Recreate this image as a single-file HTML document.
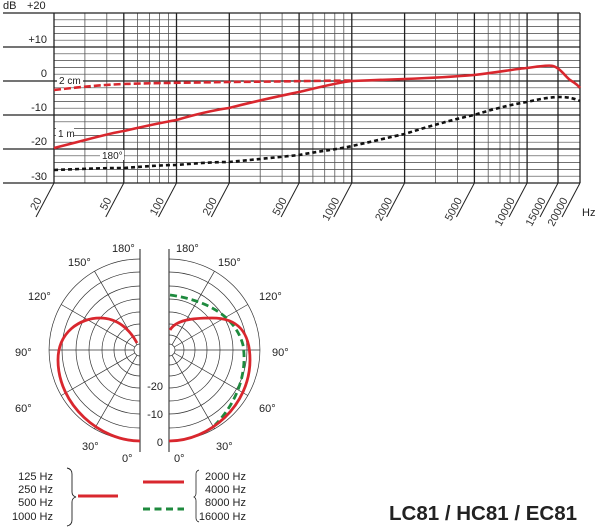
<!DOCTYPE html>
<html><head><meta charset="utf-8"><style>
html,body{margin:0;padding:0;background:#fff;}
svg{display:block;font-family:"Liberation Sans",Arial,sans-serif;}
</style></head><body>
<svg width="616" height="530" viewBox="0 0 616 530" xmlns="http://www.w3.org/2000/svg">
<g stroke="#444" stroke-width="0.7">
<line x1="54" y1="19.8" x2="580" y2="19.8"/><line x1="54" y1="26.6" x2="580" y2="26.6"/><line x1="54" y1="33.4" x2="580" y2="33.4"/><line x1="54" y1="40.2" x2="580" y2="40.2"/>
<line x1="54" y1="53.8" x2="580" y2="53.8"/><line x1="54" y1="60.6" x2="580" y2="60.6"/><line x1="54" y1="67.4" x2="580" y2="67.4"/><line x1="54" y1="74.2" x2="580" y2="74.2"/>
<line x1="54" y1="87.8" x2="580" y2="87.8"/><line x1="54" y1="94.6" x2="580" y2="94.6"/><line x1="54" y1="101.4" x2="580" y2="101.4"/><line x1="54" y1="108.2" x2="580" y2="108.2"/>
<line x1="54" y1="121.8" x2="580" y2="121.8"/><line x1="54" y1="128.6" x2="580" y2="128.6"/><line x1="54" y1="135.4" x2="580" y2="135.4"/><line x1="54" y1="142.2" x2="580" y2="142.2"/>
<line x1="54" y1="155.8" x2="580" y2="155.8"/><line x1="54" y1="162.6" x2="580" y2="162.6"/><line x1="54" y1="169.4" x2="580" y2="169.4"/><line x1="54" y1="176.2" x2="580" y2="176.2"/>
</g>
<g stroke="#555" stroke-width="0.8">
<line x1="84.9" y1="13" x2="84.9" y2="183"/><line x1="106.8" y1="13" x2="106.8" y2="183"/><line x1="137.6" y1="13" x2="137.6" y2="183"/><line x1="149.4" y1="13" x2="149.4" y2="183"/><line x1="159.5" y1="13" x2="159.5" y2="183"/><line x1="168.5" y1="13" x2="168.5" y2="183"/>
<line x1="260.2" y1="13" x2="260.2" y2="183"/><line x1="282.1" y1="13" x2="282.1" y2="183"/><line x1="312.9" y1="13" x2="312.9" y2="183"/><line x1="324.7" y1="13" x2="324.7" y2="183"/><line x1="334.8" y1="13" x2="334.8" y2="183"/><line x1="343.8" y1="13" x2="343.8" y2="183"/>
<line x1="435.5" y1="13" x2="435.5" y2="183"/><line x1="457.4" y1="13" x2="457.4" y2="183"/><line x1="488.2" y1="13" x2="488.2" y2="183"/><line x1="500" y1="13" x2="500" y2="183"/><line x1="510.1" y1="13" x2="510.1" y2="183"/><line x1="519.1" y1="13" x2="519.1" y2="183"/>
</g>
<g stroke="#222" stroke-width="1.3">
<line x1="3" y1="13" x2="580" y2="13"/><line x1="3" y1="47" x2="580" y2="47"/><line x1="3" y1="81" x2="580" y2="81"/><line x1="3" y1="115" x2="580" y2="115"/><line x1="3" y1="149" x2="580" y2="149"/><line x1="3" y1="183" x2="580" y2="183"/>
<line x1="54" y1="13" x2="54" y2="183"/><line x1="123.8" y1="13" x2="123.8" y2="183"/><line x1="176.5" y1="13" x2="176.5" y2="183"/><line x1="229.3" y1="13" x2="229.3" y2="183"/><line x1="299.1" y1="13" x2="299.1" y2="183"/><line x1="351.8" y1="13" x2="351.8" y2="183"/><line x1="404.6" y1="13" x2="404.6" y2="183"/><line x1="474.4" y1="13" x2="474.4" y2="183"/><line x1="527.1" y1="13" x2="527.1" y2="183"/><line x1="558" y1="13" x2="558" y2="183"/><line x1="580" y1="13" x2="580" y2="183"/>
</g>
<g stroke="#222" stroke-width="1">
<line x1="54" y1="183" x2="36" y2="217"/><line x1="123.8" y1="183" x2="105.8" y2="217"/><line x1="176.5" y1="183" x2="158.5" y2="217"/><line x1="229.3" y1="183" x2="211.3" y2="217"/><line x1="299.1" y1="183" x2="281.1" y2="217"/><line x1="351.8" y1="183" x2="333.8" y2="217"/><line x1="404.6" y1="183" x2="386.6" y2="217"/><line x1="474.4" y1="183" x2="456.4" y2="217"/><line x1="527.1" y1="183" x2="509.1" y2="217"/><line x1="558" y1="183" x2="540" y2="217"/><line x1="580" y1="183" x2="562" y2="217"/>
</g>
<g font-size="11" fill="#333" text-anchor="end">
<text transform="translate(42,200) rotate(-62)">20</text>
<text transform="translate(111.8,200) rotate(-62)">50</text>
<text transform="translate(164.5,200) rotate(-62)">100</text>
<text transform="translate(217.3,200) rotate(-62)">200</text>
<text transform="translate(287.1,200) rotate(-62)">500</text>
<text transform="translate(339.8,200) rotate(-62)">1000</text>
<text transform="translate(392.6,200) rotate(-62)">2000</text>
<text transform="translate(462.4,200) rotate(-62)">5000</text>
<text transform="translate(515.1,200) rotate(-62)">10000</text>
<text transform="translate(546,200) rotate(-62)">15000</text>
<text transform="translate(568,200) rotate(-62)">20000</text>
</g>
<g font-size="11" fill="#222">
<text x="582" y="216">Hz</text>
<text x="3" y="9">dB</text>
<text x="27" y="9">+20</text>
<text x="47" y="43" text-anchor="end">+10</text>
<text x="47" y="77" text-anchor="end">0</text>
<text x="47" y="111" text-anchor="end">-10</text>
<text x="47" y="145" text-anchor="end">-20</text>
<text x="47" y="180" text-anchor="end">-30</text>
</g>
<path d="M54 90 C80 87 100 85 123.8 84 C150 83 200 82.5 229 82 C280 81.5 320 80.8 352 80.5" fill="none" stroke="#d9272e" stroke-width="2.6" stroke-dasharray="7 3"/>
<path d="M54 148 C90 139 110 133 123.8 131 C150 125 165 122 176.5 120 C200 113 215 110 229 108 C260 100 280 96 299 92 C320 87 340 82 352 81 C380 80 395 79.5 404.6 79 C430 78 450 77 474 75 C500 72 515 69 527 68 C540 66 550 65 553 66 C560 68 565 76 570 80 C575 83 578 85 580 88" fill="none" stroke="#d9272e" stroke-width="2.6"/>
<path d="M54 170 C80 169 100 168 123.8 168 C150 166 165 165 176.5 165 C200 163 215 162 229 162 C260 159 280 157 299 155 C320 151 340 149 352 146 C375 141 390 137 404.6 134 C430 126 455 119 474 115 C500 107 515 104 527 102 C540 99 550 97 560 97 C570 97 575 99 580 101" fill="none" stroke="#111" stroke-width="2.6" stroke-dasharray="4 3"/>
<g font-size="10" fill="#222">
<rect x="57" y="75" width="26" height="10" fill="#fff"/><text x="59" y="84">2 cm</text>
<rect x="56" y="128" width="18" height="10" fill="#fff"/><text x="58" y="137">1 m</text>
<rect x="100" y="150" width="24" height="10" fill="#fff"/><text x="102" y="159">180°</text>
</g>
<g fill="none" stroke="#333" stroke-width="0.7">
<path d="M140 259 A91 91 0 0 0 140 441"/><path d="M140 272 A78 78 0 0 0 140 428"/><path d="M140 286 A64 64 0 0 0 140 414"/><path d="M140 299 A51 51 0 0 0 140 401"/><path d="M140 312 A38 38 0 0 0 140 388"/><path d="M140 324 A26 26 0 0 0 140 376"/><path d="M140 335 A15 15 0 0 0 140 365"/><path d="M140 344 A6 6 0 0 0 140 356"/>
<path d="M169 259 A91 91 0 0 1 169 441"/><path d="M169 272 A78 78 0 0 1 169 428"/><path d="M169 286 A64 64 0 0 1 169 414"/><path d="M169 299 A51 51 0 0 1 169 401"/><path d="M169 312 A38 38 0 0 1 169 388"/><path d="M169 324 A26 26 0 0 1 169 376"/><path d="M169 335 A15 15 0 0 1 169 365"/><path d="M169 344 A6 6 0 0 1 169 356"/>
<line x1="137" y1="355.2" x2="94.5" y2="428.8"/><line x1="134.8" y1="353" x2="61.2" y2="395.5"/><line x1="134" y1="350" x2="49" y2="350"/><line x1="134.8" y1="347" x2="61.2" y2="304.5"/><line x1="137" y1="344.8" x2="94.5" y2="271.2"/>
<line x1="172" y1="355.2" x2="214.5" y2="428.8"/><line x1="174.2" y1="353" x2="247.8" y2="395.5"/><line x1="175" y1="350" x2="260" y2="350"/><line x1="174.2" y1="347" x2="247.8" y2="304.5"/><line x1="172" y1="344.8" x2="214.5" y2="271.2"/>
</g>
<g stroke="#333" stroke-width="1.1"><line x1="140" y1="249" x2="140" y2="452"/><line x1="169" y1="249" x2="169" y2="452"/></g>
<path d="M140 441 C100 441 58 405 58 360 C58 332 80 318 100 318 C118 318 130 330 137 343" fill="none" stroke="#d9272e" stroke-width="2.8"/>
<path d="M170 295 C205 300 235 315 243 345 C248 375 235 405 215 425" fill="none" stroke="#1e8a3e" stroke-width="2.8" stroke-dasharray="7 4"/>
<path d="M169 441 C210 441 250 405 250 360 C250 332 238 318 212 318 C192 318 176 320 170 330" fill="none" stroke="#d9272e" stroke-width="2.8"/>
<g font-size="11" fill="#222">
<text x="112" y="252">180°</text><text x="176" y="252">180°</text>
<text x="68" y="266">150°</text><text x="218" y="266">150°</text>
<text x="28" y="300">120°</text><text x="259" y="300">120°</text>
<text x="15" y="356">90°</text><text x="272" y="356">90°</text>
<text x="15" y="412">60°</text><text x="259" y="412">60°</text>
<text x="82" y="450">30°</text><text x="216" y="450">30°</text>
<text x="122" y="462">0°</text><text x="174" y="462">0°</text>
<text x="163" y="390" text-anchor="end">-20</text>
<text x="163" y="418" text-anchor="end">-10</text>
<text x="163" y="446" text-anchor="end">0</text>
</g>
<g font-size="11" fill="#222">
<text x="53" y="480" text-anchor="end">125 Hz</text>
<text x="53" y="493" text-anchor="end">250 Hz</text>
<text x="53" y="506" text-anchor="end">500 Hz</text>
<text x="53" y="520" text-anchor="end">1000 Hz</text>
<text x="246" y="480" text-anchor="end">2000 Hz</text>
<text x="246" y="493" text-anchor="end">4000 Hz</text>
<text x="246" y="506" text-anchor="end">8000 Hz</text>
<text x="246" y="520" text-anchor="end">16000 Hz</text>
</g>
<path d="M67 468 Q72 469 72 474 L72 492 Q72 496 76 497 Q72 498 72 502 L72 520 Q72 525 67 526" fill="none" stroke="#222" stroke-width="0.9"/>
<path d="M199 470 Q196 471 196 474 L196 493 Q196 496 194 497 Q196 498 196 501 L196 518 Q196 521 199 522" fill="none" stroke="#222" stroke-width="0.8"/>
<line x1="78" y1="496" x2="118" y2="496" stroke="#d9272e" stroke-width="3"/>
<line x1="143" y1="482" x2="184" y2="482" stroke="#d9272e" stroke-width="3"/>
<line x1="143" y1="509" x2="184" y2="509" stroke="#1e8a3e" stroke-width="3" stroke-dasharray="7 4.5"/>
<text x="389" y="520" font-size="20.5" font-weight="bold" fill="#222">LC81 / HC81 / EC81</text>
</svg>
</body></html>
